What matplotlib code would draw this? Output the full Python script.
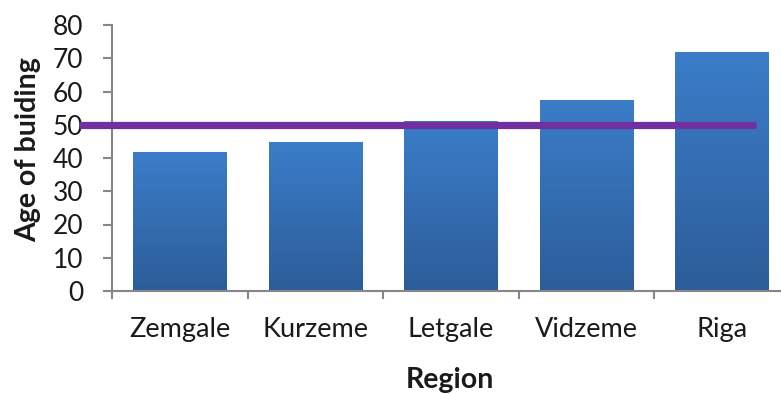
import matplotlib
matplotlib.use("Agg")
import matplotlib.pyplot as plt
import numpy as np
from matplotlib.colors import LinearSegmentedColormap

regions = ["Zemgale", "Kurzeme", "Letgale", "Vidzeme", "Riga"]
ages = [41.8, 44.8, 51.0, 57.5, 71.8]
reference_age = 50
yticks = [0, 10, 20, 30, 40, 50, 60, 70, 80]

plt.rcParams['font.family'] = ['Lato', 'DejaVu Sans']

W, H = 781, 394
fig = plt.figure(figsize=(W / 100, H / 100), dpi=100)
ax = fig.add_axes([112 / W, 103 / H, (790 - 112) / W, 266 / H])

x = np.arange(len(regions))
bars = ax.bar(x, ages, width=0.69, facecolor='none', edgecolor='none', zorder=2)

cmap = LinearSegmentedColormap.from_list('g', ['#2c5d99', '#3b7dc9'])
grad = np.linspace(0, 1, 256).reshape(-1, 1)
for b in bars:
    x0, w, h = b.get_x(), b.get_width(), b.get_height()
    im = ax.imshow(grad, cmap=cmap, extent=[x0, x0 + w, 0, h], aspect='auto',
                   origin='lower', zorder=2)
    im.set_clip_path(b)

ax.plot([-0.74, 4.25], [reference_age, reference_age], color='#7030a0',
        linewidth=5.2, solid_capstyle='butt', zorder=3, clip_on=False)

ax.set_xlim(-0.5, 4.5)
ax.set_ylim(0, 80)
ax.set_yticks(yticks)
ax.set_yticklabels([str(v) for v in yticks])
ax.set_xticks(np.arange(-0.5, 5.0, 1.0))
ax.set_xticklabels([])
ax.set_xticks(x, minor=True)
ax.set_xticklabels(regions, minor=True)

for s in ['top', 'right']:
    ax.spines[s].set_visible(False)
for s in ['left', 'bottom']:
    ax.spines[s].set_color('#868686')
    ax.spines[s].set_linewidth(1.5)

ax.tick_params(axis='y', direction='out', length=6.5, width=1.5, color='#868686',
               labelsize=19, labelcolor='#1a1a1a', pad=14)
ax.tick_params(axis='x', which='major', direction='out', length=6, width=1.5,
               color='#868686')
ax.tick_params(axis='x', which='minor', length=0, labelsize=19.5,
               labelcolor='#1a1a1a', pad=19)

fig.text(28 / W, 1 - 150 / H, "Age of buiding", rotation=90, ha='center',
         va='center', fontsize=20.5, fontweight='bold', color='#1a1a1a')
fig.text(450 / W, 1 - 380 / H, "Region", ha='center', va='center',
         fontsize=20.5, fontweight='bold', color='#1a1a1a')

fig.savefig("out.png", dpi=100)
